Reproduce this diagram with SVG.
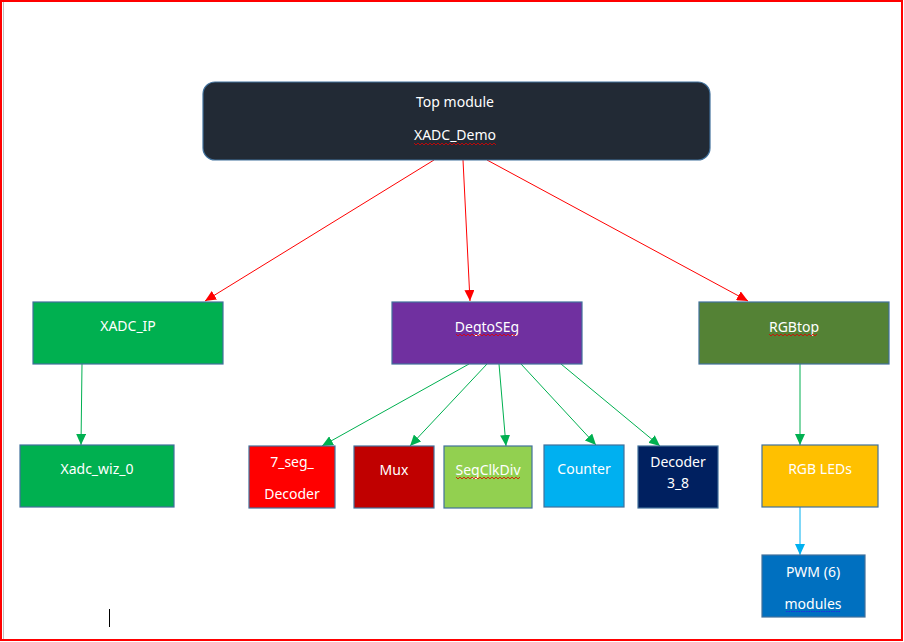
<svg xmlns="http://www.w3.org/2000/svg" width="904" height="642" viewBox="0 0 904 642">
  <style>
    .box { stroke: #41719C; stroke-width: 1.2; }
    .lbl { font-family: "Noto Sans", "Open Sans", sans-serif; font-size: 14px; fill: #FFFFFF; text-anchor: middle; }
    .red { stroke: #FF0000; stroke-width: 1; fill: none; }
    .grn { stroke: #00B050; stroke-width: 1; fill: none; }
    .blu { stroke: #00B0F0; stroke-width: 1; fill: none; }
    .squig { stroke: #E00000; stroke-width: 0.8; fill: none; }
  </style>
  <defs>
    <marker id="arrRed" markerWidth="12" markerHeight="10" refX="11" refY="5" orient="auto" markerUnits="userSpaceOnUse">
      <path d="M0,0 L11,5 L0,10 Z" fill="#FF0000"/>
    </marker>
    <marker id="arrGrn" markerWidth="12" markerHeight="10" refX="11" refY="5" orient="auto" markerUnits="userSpaceOnUse">
      <path d="M0,0 L11,5 L0,10 Z" fill="#00B050"/>
    </marker>
    <marker id="arrBlu" markerWidth="12" markerHeight="10" refX="11" refY="5" orient="auto" markerUnits="userSpaceOnUse">
      <path d="M0,0 L11,5 L0,10 Z" fill="#00B0F0"/>
    </marker>
  </defs>

  <!-- page frame -->
  <rect x="0" y="0" width="904" height="642" fill="#FFFFFF"/>
  <rect x="1" y="1" width="901" height="639" fill="none" stroke="#FF0000" stroke-width="2"/>
  <line x1="3.5" y1="2" x2="3.5" y2="639" stroke="#BFBFBF" stroke-width="1"/>

  <!-- connectors -->
  <g id="connectors">
    <line class="red" x1="434" y1="160" x2="205" y2="301" marker-end="url(#arrRed)"/>
    <line class="red" x1="463" y1="160" x2="470" y2="301" marker-end="url(#arrRed)"/>
    <line class="red" x1="487" y1="160" x2="748" y2="301" marker-end="url(#arrRed)"/>

    <line class="grn" x1="82" y1="364" x2="81" y2="445" marker-end="url(#arrGrn)"/>
    <line class="grn" x1="469" y1="364" x2="322" y2="446" marker-end="url(#arrGrn)"/>
    <line class="grn" x1="487" y1="364" x2="410" y2="446" marker-end="url(#arrGrn)"/>
    <line class="grn" x1="499" y1="364" x2="506" y2="446" marker-end="url(#arrGrn)"/>
    <line class="grn" x1="521" y1="364" x2="596" y2="445" marker-end="url(#arrGrn)"/>
    <line class="grn" x1="561" y1="364" x2="660" y2="446" marker-end="url(#arrGrn)"/>
    <line class="grn" x1="800" y1="364" x2="800" y2="445" marker-end="url(#arrGrn)"/>

    <line class="blu" x1="800" y1="507" x2="800" y2="555" marker-end="url(#arrBlu)"/>
  </g>

  <!-- top level -->
  <g id="top-module">
    <rect class="box" x="203" y="82" width="507" height="78" rx="12" ry="12" fill="#222A35"/>
    <text class="lbl" x="455" y="107">Top module</text>
    <text class="lbl" x="455" y="140">XADC_Demo</text>
    <path class="squig" d="M414,143 l2,2 l2,-2 l2,2 l2,-2 l2,2 l2,-2 l2,2 l2,-2 l2,2 l2,-2 l2,2 l2,-2 l2,2 l2,-2 l2,2 l2,-2 l2,2 l2,-2 l2,2 l2,-2 l2,2 l2,-2 l2,2 l2,-2 l2,2 l2,-2 l2,2 l2,-2 l2,2 l2,-2 l2,2 l2,-2 l2,2 l2,-2 l2,2 l2,-2 l2,2 l2,-2 l2,2 l2,-2 l2,2"/>
  </g>

  <!-- second level -->
  <g id="xadc-ip">
    <rect class="box" x="33" y="302" width="190" height="62" fill="#00B050"/>
    <text class="lbl" x="128" y="331">XADC_IP</text>
  </g>
  <g id="degtoseg">
    <rect class="box" x="392" y="302" width="190" height="62" fill="#7030A0"/>
    <text class="lbl" x="487" y="332">DegtoSEg</text>
    <path class="squig" d="M456,334 l2,2 l2,-2 l2,2 l2,-2 l2,2 l2,-2 l2,2 l2,-2 l2,2 l2,-2 l2,2 l2,-2 l2,2 l2,-2 l2,2 l2,-2 l2,2 l2,-2 l2,2 l2,-2 l2,2 l2,-2 l2,2 l2,-2 l2,2 l2,-2 l2,2 l2,-2 l2,2 l2,-2"/>
  </g>
  <g id="rgbtop">
    <rect class="box" x="699" y="302" width="190" height="62" fill="#548235"/>
    <text class="lbl" x="794" y="332">RGBtop</text>
    <path class="squig" d="M769,334 l2,2 l2,-2 l2,2 l2,-2 l2,2 l2,-2 l2,2 l2,-2 l2,2 l2,-2 l2,2 l2,-2 l2,2 l2,-2 l2,2 l2,-2 l2,2 l2,-2 l2,2 l2,-2 l2,2 l2,-2 l2,2 l2,-2"/>
  </g>

  <!-- third level -->
  <g id="xadc-wiz">
    <rect class="box" x="20" y="445" width="154" height="62" fill="#00B050"/>
    <text class="lbl" x="97" y="474">Xadc_wiz_0</text>
  </g>
  <g id="seg-decoder">
    <rect class="box" x="249" y="446" width="86" height="62" fill="#FF0000"/>
    <text class="lbl" x="292" y="467">7_seg_</text>
    <text class="lbl" x="292" y="499">Decoder</text>
  </g>
  <g id="mux">
    <rect class="box" x="354" y="446" width="80" height="62" fill="#C00000"/>
    <text class="lbl" x="394" y="475">Mux</text>
  </g>
  <g id="segclkdiv">
    <rect class="box" x="444" y="446" width="88" height="62" fill="#92D050"/>
    <text class="lbl" x="488" y="475">SegClkDiv</text>
    <path class="squig" d="M456,477 l2,2 l2,-2 l2,2 l2,-2 l2,2 l2,-2 l2,2 l2,-2 l2,2 l2,-2 l2,2 l2,-2 l2,2 l2,-2 l2,2 l2,-2 l2,2 l2,-2 l2,2 l2,-2 l2,2 l2,-2 l2,2 l2,-2 l2,2 l2,-2 l2,2 l2,-2 l2,2 l2,-2 l2,2 l2,-2"/>
  </g>
  <g id="counter">
    <rect class="box" x="544" y="445" width="80" height="62" fill="#00B0F0"/>
    <text class="lbl" x="584" y="474">Counter</text>
  </g>
  <g id="decoder-3-8">
    <rect class="box" x="638" y="446" width="80" height="62" fill="#002060"/>
    <text class="lbl" x="678" y="467">Decoder</text>
    <text class="lbl" x="678" y="488">3_8</text>
  </g>
  <g id="rgb-leds">
    <rect class="box" x="762" y="445" width="116" height="62" fill="#FFC000"/>
    <text class="lbl" x="820" y="474">RGB LEDs</text>
  </g>

  <!-- fourth level -->
  <g id="pwm-modules">
    <rect class="box" x="762" y="555" width="103" height="62" fill="#0070C0"/>
    <text class="lbl" x="813" y="577">PWM (6)</text>
    <text class="lbl" x="813" y="609">modules</text>
    <line x1="786" y1="611.5" x2="841" y2="611.5" stroke="#2030E0" stroke-width="1" stroke-dasharray="1.5,1"/>
  </g>

  <!-- text caret -->
  <line x1="109.5" y1="609" x2="109.5" y2="627" stroke="#000000" stroke-width="1"/>
</svg>
